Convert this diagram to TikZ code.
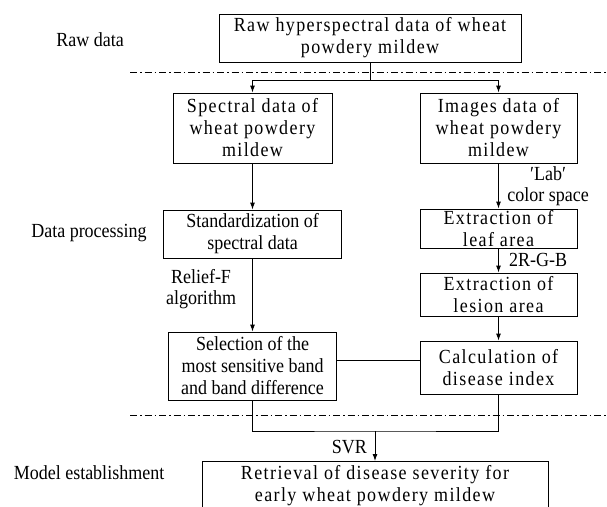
\documentclass[tikz,border=0pt]{standalone}
\usepackage{fontspec}
\setmainfont{Liberation Serif}[FakeStretch=0.9]
\usetikzlibrary{arrows.meta}

\tikzset{
  stage/.style={draw, line width=0.9pt, align=center, inner sep=0pt,
    font=\fontsize{20}{22}\selectfont},
  wide/.style={font=\fontsize{20}{22}\selectfont\addfontfeature{LetterSpace=7}},
  tag/.style={align=center, inner sep=0pt, font=\fontsize{20}{21}\selectfont},
  flow/.style={line width=0.9pt, -{Latex[length=7pt,width=5pt]}},
  link/.style={line width=0.9pt},
  phase/.style={line width=0.7pt, dash pattern=on 7pt off 3pt on 1.5pt off 3pt}
}

\begin{document}
\begin{tikzpicture}[x=1pt,y=-1pt]
  \useasboundingbox (0,0) rectangle (607,506);
  \clip (0,0) rectangle (607,506);

  \node[tag] (rawlbl) at (90,40) {Raw data};
  \node[tag] (proclbl) at (89,233) {Data processing};
  \node[tag] (modellbl) at (89,473) {Model establishment};

  \node[stage, wide, minimum width=302pt, minimum height=48pt] (raw) at (370,38)
    {Raw hyperspectral data of wheat\\powdery mildew};

  \node[stage, wide, minimum width=159pt, minimum height=70pt] (spec) at (252.5,128)
    {Spectral data of\\wheat powdery\\mildew};
  \node[stage, wide, minimum width=157pt, minimum height=70pt] (img) at (498.5,128)
    {Images data of\\wheat powdery\\mildew};

  \node[stage, minimum width=178pt, minimum height=48pt] (std) at (252.5,234)
    {Standardization of\\spectral data};
  \node[stage, wide, minimum width=157pt, minimum height=39pt] (leaf) at (498.5,228.5)
    {Extraction of\\leaf area};
  \node[stage, wide, minimum width=157pt, minimum height=43pt] (lesion) at (498.5,294.5)
    {Extraction of\\lesion area};

  \node[stage, minimum width=168pt, minimum height=68pt] (sel) at (252.5,366)
    {Selection of the\\most sensitive band\\and band difference};
  \node[stage, wide, minimum width=157pt, minimum height=53pt] (calc) at (498.5,367.5)
    {Calculation of\\disease index};

  \node[stage, wide, minimum width=346pt, minimum height=48pt, anchor=north] (svr) at (375,461)
    {Retrieval of disease severity for\\early wheat powdery mildew};

  \node[tag] (relief) at (201,289) {Relief-F\\algorithm};
  \node[tag] (lab) at (548,186) {′Lab′\\color space};
  \node[tag, anchor=west] (rgb) at (509,260) {2R-G-B};
  \node[tag, anchor=east] (svrlbl) at (367,447) {SVR};

  \draw[phase] (130,72) -- (607,72);
  \draw[phase] (130,415) -- (607,415);

  \coordinate (fork) at (370,80);
  \coordinate (join) at (375,431);

  \draw[link] (raw) -- (fork);
  \draw[flow] (fork) -| (spec);
  \draw[flow] (fork) -| (img);

  \draw[flow] (spec) -- (std);
  \draw[flow] (std) -- (sel);
  \draw[flow] (img) -- (leaf);
  \draw[flow] (leaf) -- (lesion);
  \draw[flow] (lesion) -- (calc);

  \draw[link] ([yshift=7pt]calc.west) -- ([yshift=7pt]calc.west -| sel.east);

  \draw[link] (sel) |- (join) -| (calc);
  \draw[flow] (join) -- (svr);
\end{tikzpicture}
\end{document}
